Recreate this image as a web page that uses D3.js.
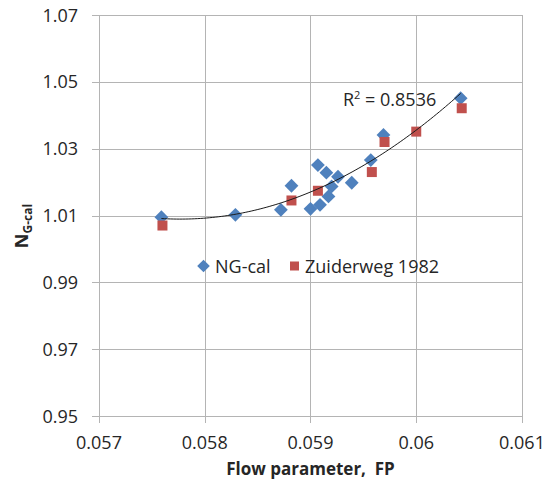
<!DOCTYPE html>
<html>
<head>
<meta charset="utf-8">
<script src="https://cdn.jsdelivr.net/npm/d3@7"></script>
<style>
  body { margin: 0; background: #fff; }
  text { font-family: "Open Sans", "Liberation Sans", sans-serif; fill: #262626; }
</style>
</head>
<body>
<div id="wrap"></div>
<script>
// 数据 NG-cal
const fpNG = [0.05759, 0.05829, 0.05872, 0.05882, 0.05900, 0.05907, 0.05915, 0.05909,
              0.05917, 0.05920, 0.05926, 0.05939, 0.05957, 0.05969, 0.06042];
const nNG  = [1.0095, 1.0102, 1.0117, 1.0189, 1.0120, 1.0251, 1.0228, 1.0132,
              1.0157, 1.0187, 1.0216, 1.0198, 1.0266, 1.0341, 1.0451];
// 数据 Zuiderweg 1982
const fpZ = [0.05760, 0.05882, 0.05907, 0.05958, 0.05970, 0.06000, 0.06043];
const nZ  = [1.0070, 1.0145, 1.0174, 1.0230, 1.0320, 1.0351, 1.0421];
// 刻度
const xTicks = [0.057, 0.058, 0.059, 0.060, 0.061];
const yTicks = [0.95, 0.97, 0.99, 1.01, 1.03, 1.05, 1.07];
const rSquared = "0.8536";

const W = 554, H = 481;
const L = 99, R = 522, T = 15, B = 416;

const svg = d3.select('#wrap').append('svg')
  .attr('width', W).attr('height', H);

const x = d3.scaleLinear().domain([0.057, 0.061]).range([L, R]);
const y = d3.scaleLinear().domain([0.95, 1.07]).range([B, T]);

const grid = '#b4b4b4';

// 网格线
svg.append('g').selectAll('line').data(xTicks).enter().append('line')
  .attr('x1', d => Math.round(x(d)) + 0.5).attr('x2', d => Math.round(x(d)) + 0.5)
  .attr('y1', T).attr('y2', B + 7)
  .attr('stroke', grid);
svg.append('g').selectAll('line').data(yTicks).enter().append('line')
  .attr('x1', L - 7).attr('x2', R)
  .attr('y1', d => Math.round(y(d)) + 0.5).attr('y2', d => Math.round(y(d)) + 0.5)
  .attr('stroke', grid);

// 刻度文字
svg.append('g').selectAll('text').data(xTicks).enter().append('text')
  .attr('x', d => x(d)).attr('y', B + 33)
  .attr('text-anchor', 'middle').style('font-size', '18px')
  .text(d => d3.format('')(+d.toFixed(3)));
svg.append('g').selectAll('text').data(yTicks).enter().append('text')
  .attr('x', 78).attr('y', d => y(d) + 6.5)
  .attr('text-anchor', 'end').style('font-size', '18px')
  .text(d => d.toFixed(2));

// 轴标题
svg.append('text')
  .attr('x', (L + R) / 2).attr('y', 475)
  .attr('text-anchor', 'middle')
  .style('font-size', '17px').style('font-weight', 'bold')
  .style('white-space', 'pre')
  .text('Flow parameter,  FP');
const yt = svg.append('text')
  .attr('transform', 'translate(28,226) rotate(-90)')
  .attr('text-anchor', 'middle')
  .style('font-weight', 'bold');
yt.append('tspan').style('font-size', '18px').text('N');
yt.append('tspan').style('font-size', '12px').attr('dy', 4).text('G-cal');

// 标记
const diamond = d3.symbol().type(d3.symbolSquare).size(95);
const square = d3.symbol().type(d3.symbolSquare).size(100);

svg.append('g').selectAll('path').data(fpNG).enter().append('path')
  .attr('d', diamond)
  .attr('transform', (d, i) => `translate(${x(d)},${y(nNG[i])}) rotate(45)`)
  .attr('fill', '#4f81bd');
svg.append('g').selectAll('path').data(fpZ).enter().append('path')
  .attr('d', square)
  .attr('transform', (d, i) => `translate(${x(d)},${y(nZ[i])})`)
  .attr('fill', '#c0504d');

// 二次趋势线 (最小二乘)
function quadFit(xs, ys) {
  const c = 0.059;
  let S = [0, 0, 0, 0, 0], Sy = [0, 0, 0];
  xs.forEach((v, i) => {
    const u = (v - c) * 1000;
    for (let k = 0; k < 5; k++) S[k] += Math.pow(u, k);
    for (let k = 0; k < 3; k++) Sy[k] += ys[i] * Math.pow(u, k);
  });
  const A = [[S[0], S[1], S[2], Sy[0]], [S[1], S[2], S[3], Sy[1]], [S[2], S[3], S[4], Sy[2]]];
  for (let i = 0; i < 3; i++) {
    for (let j = i + 1; j < 3; j++) {
      const f = A[j][i] / A[i][i];
      for (let k = i; k < 4; k++) A[j][k] -= f * A[i][k];
    }
  }
  const b = [0, 0, 0];
  for (let i = 2; i >= 0; i--) {
    let s = A[i][3];
    for (let k = i + 1; k < 3; k++) s -= A[i][k] * b[k];
    b[i] = s / A[i][i];
  }
  return v => { const u = (v - c) * 1000; return b[0] + b[1] * u + b[2] * u * u; };
}
const f = quadFit(fpNG, nNG);
const xs = d3.range(0, 101).map(i => d3.min(fpNG) + (d3.max(fpNG) - d3.min(fpNG)) * i / 100);
svg.append('path')
  .datum(xs)
  .attr('d', d3.line().x(d => x(d)).y(d => y(f(d))))
  .attr('fill', 'none').attr('stroke', '#1a1a1a').attr('stroke-width', 1);

// R²
const rt = svg.append('text').attr('x', 343).attr('y', 106).style('font-size', '18px');
rt.append('tspan').text('R');
rt.append('tspan').attr('dy', -7).style('font-size', '11px').text('2');
rt.append('tspan').attr('dy', 7).text(' = ' + rSquared);

// 图例
const lg = svg.append('g');
lg.append('path').attr('d', d3.symbol().type(d3.symbolSquare).size(80))
  .attr('transform', 'translate(203.5,266) rotate(45)').attr('fill', '#4f81bd');
lg.append('text').attr('x', 215).attr('y', 272.5).style('font-size', '18px').text('NG-cal');
lg.append('rect').attr('x', 290).attr('y', 261.5).attr('width', 9).attr('height', 9).attr('fill', '#c0504d');
lg.append('text').attr('x', 305).attr('y', 272.5).style('font-size', '18px').text('Zuiderweg 1982');
</script>
</body>
</html>
